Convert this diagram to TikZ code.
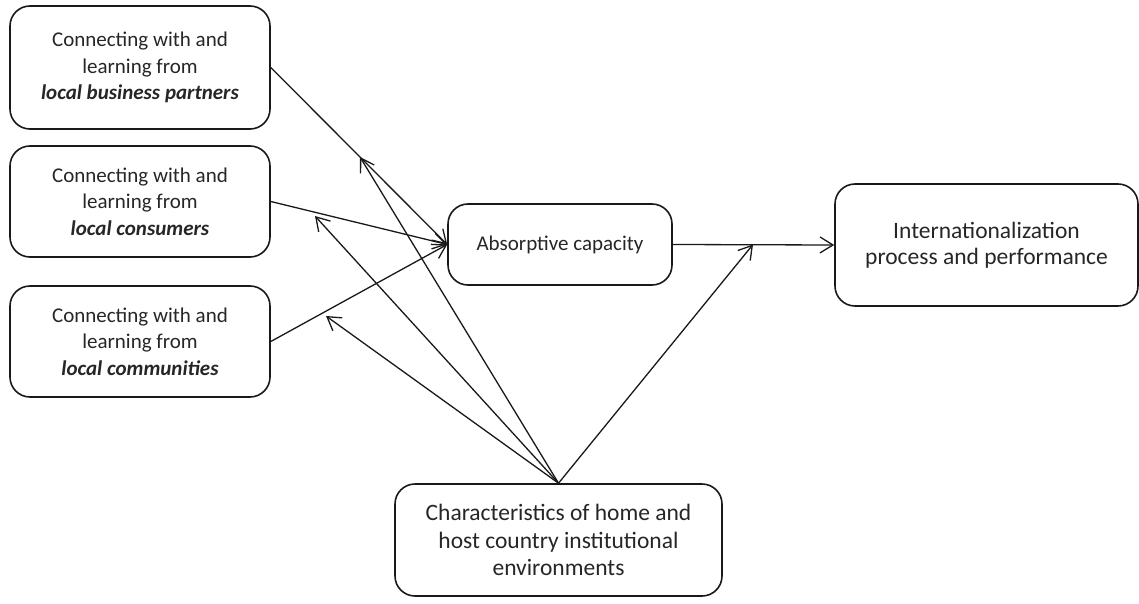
\documentclass[tikz,border=0pt]{standalone}
\usepackage{fontspec}
\setmainfont{Carlito}
\usetikzlibrary{arrows.meta}
\begin{document}
\begin{tikzpicture}[x=1pt,y=-1pt,
  box/.style={draw=black!90, line width=1.6pt, rounded corners=20pt, align=center,
    font=\fontsize{21}{26.5}\selectfont, text=black!85, inner sep=0pt},
  arr/.style={draw=black!90, line width=1.3pt, -{Straight Barb[length=13pt,width=16pt,line width=1.3pt]}}]
\useasboundingbox (0,0) rectangle (1139,604);
\node[box, minimum width=260pt, minimum height=123pt] (b1) at (140,67.5)
  {Connecting with and\\learning from\\\textbf{\textit{local business partners}}};
\node[box, minimum width=260pt, minimum height=111pt] (b2) at (140,201.5)
  {Connecting with and\\learning from\\\textbf{\textit{local consumers}}};
\node[box, minimum width=260pt, minimum height=111pt] (b3) at (140,341.5)
  {Connecting with and\\learning from\\\textbf{\textit{local communities}}};
\node[box, minimum width=224pt, minimum height=81pt] (ab) at (560,244.5)
  {Absorptive capacity};
\node[box, minimum width=303pt, minimum height=122pt, font=\fontsize{23.5}{26.5}\selectfont] (in) at (986.5,245)
  {Internationalization\\process and performance};
\node[box, minimum width=327pt, minimum height=112pt, font=\fontsize{23.5}{27.5}\selectfont] (ch) at (558.5,540)
  {Characteristics of home and\\host country institutional\\environments};
\coordinate (t1) at (360,157);
\coordinate (t2) at (315,216);
\coordinate (t3) at (326,316);
\coordinate (t4) at (753,244.5);
\draw[arr] (b1.east) -- (ab.west);
\draw[arr] (b2.east) -- (ab.west);
\draw[arr] (b3.east) -- (ab.west);
\draw[arr] (ab.east) -- (in.west);
\draw[arr] (ch.north) -- (t1);
\draw[arr] (ch.north) -- (t2);
\draw[arr] (ch.north) -- (t3);
\draw[arr] (ch.north) -- (t4);
\end{tikzpicture}
\end{document}
